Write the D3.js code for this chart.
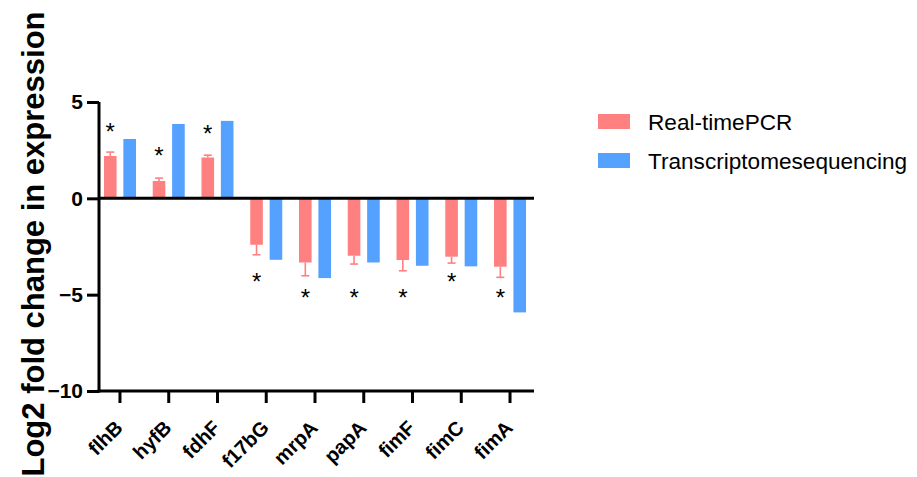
<!DOCTYPE html>
<html>
<head>
<meta charset="utf-8">
<script src="https://cdn.jsdelivr.net/npm/d3@7"></script>
<style>
  html, body { margin: 0; padding: 0; background: #fff; }
  svg { display: block; }
  text { font-family: Arial, "Liberation Sans", sans-serif; }
</style>
</head>
<body>
<svg id="chart" width="917" height="477"></svg>
<script>
// Genes compared
const genes = ["flhB", "hyfB", "fdhF", "f17bG", "mrpA", "papA", "fimF", "fimC", "fimA"];
// Series names
const seriesNames = ["Real-timePCR", "Transcriptomesequencing"];
// Log2 fold change, real-time PCR (mean)
const pcrValues = [2.2, 0.9, 2.12, -2.41, -3.33, -2.98, -3.2, -3.03, -3.55];
// Real-time PCR error (SD, drawn away from zero)
const pcrErrors = [0.2, 0.15, 0.12, 0.52, 0.69, 0.43, 0.56, 0.33, 0.55];
// Log2 fold change, transcriptome sequencing
const seqValues = [3.08, 3.86, 4.02, -3.19, -4.14, -3.33, -3.5, -3.53, -5.92];
// Position of the significance asterisk for each gene (in log2 units)
const sigPos = [3.76, 2.51, 3.65, -4.05, -4.9, -4.9, -4.9, -4.05, -4.9];
// Y axis ticks
const yTicks = [5, 0, -5, -10];

const colors = ["#FF8080", "#55A1FF"];
const svg = d3.select("#chart");

const x = d3.scaleBand().domain(genes).range([95.6, 534.4]).padding(0);
const inner = d3.scaleBand().domain(seriesNames).range([-16, 16]).paddingInner(0.35).paddingOuter(0);
const y = d3.scaleLinear().domain([-10, 5]).range([391, 102]);

const axisX0 = 99, axisX1 = 534;
const center = g => x(g) + x.bandwidth() / 2;

// Bars
const rows = genes.map((g, i) => ({ g, i, vals: [pcrValues[i], seqValues[i]] }));
const grp = svg.append("g");
rows.forEach(r => {
  r.vals.forEach((v, k) => {
    const x0 = center(r.g) + inner(seriesNames[k]);
    grp.append("rect")
      .attr("x", x0)
      .attr("width", inner.bandwidth())
      .attr("y", Math.min(y(v), y(0)))
      .attr("height", Math.abs(y(v) - y(0)))
      .attr("fill", colors[k]);
  });
});

// Error bars (one-sided, away from zero)
rows.forEach(r => {
  const v = pcrValues[r.i], e = pcrErrors[r.i];
  const cx = center(r.g) + inner(seriesNames[0]) + inner.bandwidth() / 2;
  const end = v >= 0 ? v + e : v - e;
  grp.append("line")
    .attr("x1", cx).attr("x2", cx)
    .attr("y1", y(v)).attr("y2", y(end))
    .attr("stroke", colors[0]).attr("stroke-width", 1.6);
  grp.append("line")
    .attr("x1", cx - 4).attr("x2", cx + 4)
    .attr("y1", y(end)).attr("y2", y(end))
    .attr("stroke", colors[0]).attr("stroke-width", 1.6);
});

// Significance asterisks
const starSize = 24;
rows.forEach(r => {
  const cx = center(r.g) + inner(seriesNames[0]) + inner.bandwidth() / 2;
  svg.append("text")
    .attr("x", cx)
    .attr("y", y(sigPos[r.i]) + starSize * 0.57)
    .attr("text-anchor", "middle")
    .attr("font-size", starSize)
    .attr("fill", "#000")
    .text("*");
});

// Zero line
svg.append("line")
  .attr("x1", axisX0).attr("x2", axisX1)
  .attr("y1", y(0)).attr("y2", y(0))
  .attr("stroke", "#000").attr("stroke-width", 3);

// Y axis
const yAxis = svg.append("g")
  .attr("transform", `translate(${axisX0},0)`)
  .call(d3.axisLeft(y).tickValues(yTicks).tickSize(12).tickSizeOuter(0).tickPadding(4));
yAxis.select(".domain").attr("stroke-width", 3).attr("d", `M0,${y(5)}V${y(-10) + 1.5}`);
yAxis.selectAll(".tick line").attr("stroke-width", 3);
yAxis.selectAll(".tick text")
  .attr("font-size", 21).attr("font-weight", "bold").attr("fill", "#000")
  .attr("font-family", "Arial, 'Liberation Sans', sans-serif");

// X axis
const xAxis = svg.append("g")
  .attr("transform", `translate(0,${y(-10)})`)
  .call(d3.axisBottom(x).tickSize(12).tickSizeOuter(0));
xAxis.select(".domain").attr("stroke-width", 3).attr("d", `M${axisX0 - 1.5},0H${axisX1}`);
xAxis.selectAll(".tick line").attr("stroke-width", 3);
xAxis.selectAll(".tick text")
  .attr("font-size", 20).attr("font-weight", "bold").attr("fill", "#000")
  .attr("font-family", "Arial, 'Liberation Sans', sans-serif")
  .attr("text-anchor", "end")
  .attr("dy", null)
  .attr("y", 0)
  .attr("transform", "translate(4,38) rotate(-45)");

// Y axis title
svg.append("text")
  .attr("transform", "translate(44,244) rotate(-90)")
  .attr("text-anchor", "middle")
  .attr("font-size", 31)
  .attr("font-weight", "bold")
  .attr("fill", "#000")
  .text("Log2 fold change in expression");

// Legend
const legend = svg.append("g");
seriesNames.forEach((name, k) => {
  const ly = 114 + k * 39;
  legend.append("rect")
    .attr("x", 598).attr("y", ly).attr("width", 32).attr("height", 15)
    .attr("fill", colors[k]);
  legend.append("text")
    .attr("x", 648).attr("y", ly + 8)
    .attr("dy", "0.36em")
    .attr("font-size", 22.6)
    .attr("fill", "#000")
    .text(name);
});
</script>
</body>
</html>
